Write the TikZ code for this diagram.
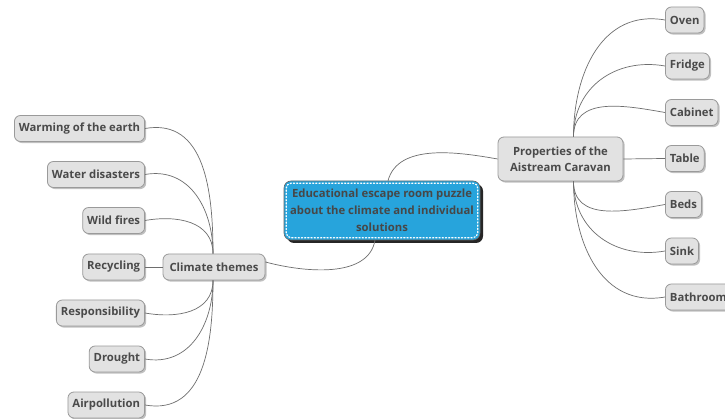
\documentclass[tikz,border=0pt]{standalone}
\usepackage{fontspec}
\setmainfont{Open Sans}
\usetikzlibrary{shadows}
\definecolor{leaffill}{HTML}{E2E2E2}
\definecolor{leafdraw}{HTML}{9A9A9A}
\definecolor{labeltext}{HTML}{4A4A4A}
\definecolor{hubblue}{HTML}{27A4DC}
\definecolor{linkgray}{HTML}{6E6E6E}
\tikzset{
  topic/.style={draw=leafdraw, fill=leaffill, rounded corners=6pt, line width=0.8pt,
    text=labeltext, font=\bfseries\fontsize{11.3}{16}\selectfont,
    minimum height=26pt, inner xsep=4.5pt, inner ysep=2pt, align=center,
    drop shadow={shadow xshift=1.6pt, shadow yshift=-1.6pt, fill=black!35, opacity=0.7}},
  hub/.style={fill=hubblue, draw=black!60, rounded corners=7pt, line width=0.6pt,
    text=black!72, font=\bfseries\fontsize{11.3}{17}\selectfont, align=center,
    minimum width=196pt, minimum height=59pt, inner sep=2pt,
    drop shadow={shadow xshift=3pt, shadow yshift=-3pt, fill=black!85, opacity=1}},
  link/.style={draw=linkgray, line width=0.7pt},
}
\begin{document}
\begin{tikzpicture}[x=1pt, y=-1pt]
\useasboundingbox[fill=white] (0,0) rectangle (725,419);

% central topic
\node[hub] (c) at (382,210.5) {Educational escape room puzzle\\about the climate and individual\\solutions};
\draw[white, dotted, line width=1.2pt, line cap=round, rounded corners=5pt]
  ([shift={(2.5,-2.5)}]c.south west) rectangle ([shift={(-2.5,2.5)}]c.north east);

% main branches
\node[topic, minimum width=125pt, minimum height=44pt] (pr) at (560.5,159) {Properties of the\\Aistream Caravan};
\node[topic, minimum width=102pt] (ct) at (214,267) {Climate themes};

% climate leaves
\node[topic, anchor=east] (l1) at (145,128.5) {Warming of the earth};
\node[topic, anchor=east] (l2) at (145,174.5) {Water disasters};
\node[topic, anchor=east] (l3) at (145,220.5) {Wild fires};
\node[topic, anchor=east] (l4) at (145,267) {Recycling};
\node[topic, anchor=east] (l5) at (145,313) {Responsibility};
\node[topic, anchor=east] (l6) at (145,359) {Drought};
\node[topic, anchor=east] (l7) at (145,405) {Airpollution};

% caravan leaves
\node[topic, anchor=west] (r1) at (665,20) {Oven};
\node[topic, anchor=west] (r2) at (665,66) {Fridge};
\node[topic, anchor=west] (r3) at (665,112.5) {Cabinet};
\node[topic, anchor=west] (r4) at (665,158.5) {Table};
\node[topic, anchor=west] (r5) at (665,204.5) {Beds};
\node[topic, anchor=west] (r6) at (665,251) {Sink};
\node[topic, anchor=west] (r7) at (665,297) {Bathroom};

% connectors from the central topic
\draw[link] ([xshift=6pt]c.north) to[out=75, in=170, looseness=0.9] (pr.west);
\draw[link] ([xshift=-7pt]c.south) to[out=-100, in=-15, looseness=0.9] ([yshift=5pt]ct.east);

% climate connectors
\coordinate (ctn) at ([xshift=-1pt]ct.north);
\coordinate (cts) at ([xshift=-1pt]ct.south);
\foreach \l in {l1,l2,l3}
  \draw[link] (\l.east) to[out=10, in=90, looseness=1.1] (ctn);
\draw[link] (l4.east) -- (ct.west);
\foreach \l in {l5,l6,l7}
  \draw[link] (cts) to[out=-90, in=-10, looseness=1.1] (\l.east);

% caravan connectors
\coordinate (prn) at ([xshift=13pt]pr.north);
\coordinate (prs) at ([xshift=13pt]pr.south);
\foreach \r in {r1,r2,r3}
  \draw[link] (prn) to[out=90, in=170, looseness=1.1] (\r.west);
\draw[link] (pr.east) -- (r4.west);
\foreach \r in {r5,r6,r7}
  \draw[link] (prs) to[out=-90, in=190, looseness=1.1] (\r.west);
\end{tikzpicture}
\end{document}
